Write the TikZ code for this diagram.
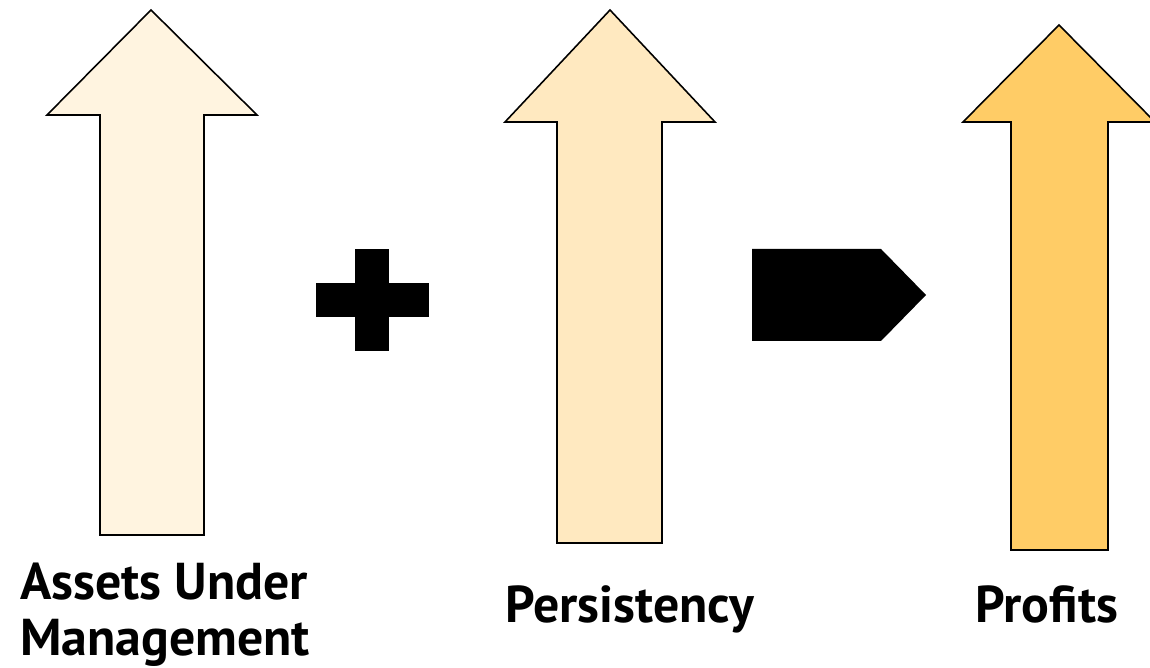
\documentclass[tikz,border=0pt]{standalone}
\usepackage{fontspec}
\setmainfont{PT Sans}
\usetikzlibrary{positioning}
\definecolor{aumfill}{HTML}{FFF4E0}
\definecolor{persfill}{HTML}{FFE9C0}
\definecolor{proffill}{HTML}{FFCC66}
\begin{document}
\begin{tikzpicture}[
		x=0.02cm, y=-0.02cm,
		uparrow/.style={draw=black, line width=0.9pt, line join=miter},
		sign/.style={fill=black, draw=none},
		caption/.style={font=\fontsize{29.5}{35}\selectfont\bfseries, inner sep=0pt, anchor=base west},
		]
		\useasboundingbox (0,0) rectangle (1150,668);
		
		% Assets Under Management arrow
		\draw[uparrow, fill=aumfill] (151,10) -- (257,115) -- (204,115) -- (204,535)
		-- (100,535) -- (100,115) -- (47,115) -- cycle;
		
		% Persistency arrow
		\draw[uparrow, fill=persfill] (610,10) -- (715,122) -- (662,122) -- (662,543)
		-- (557,543) -- (557,122) -- (505,122) -- cycle;
		
		% Profits arrow
		\draw[uparrow, fill=proffill] (1059,25) -- (1155,122) -- (1108,122) -- (1108,550)
		-- (1011,550) -- (1011,122) -- (963,122) -- cycle;
		
		% plus sign
		\fill[sign] (355,249) rectangle (389,351);
		\fill[sign] (316,283) rectangle (429,317);
		
		% "leads to" pentagon
		\fill[sign] (752,249) -- (881,249) -- (926,295) -- (881,341) -- (752,341) -- cycle;
		
		% captions
		\node[caption] (aum) at (20,600) {Assets Under};
		\node[caption] (mgmt) at (20,656) {Management};
		\node[caption] (pers) at (505,623) {Persistency};
		\node[caption] (prof) at (975,623) {Profits};
	\end{tikzpicture}
\end{document}
